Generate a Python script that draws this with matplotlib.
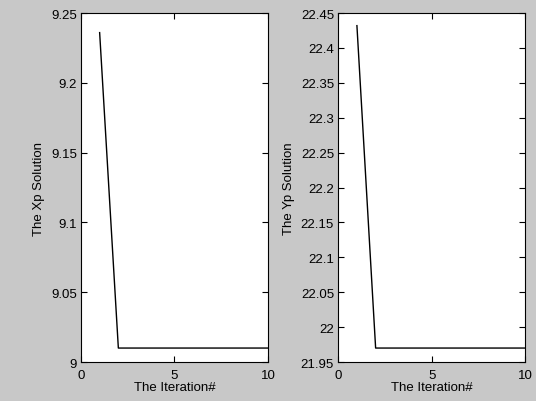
import matplotlib
matplotlib.use("Agg")
import matplotlib.pyplot as plt

iterations = [1, 2, 3, 4, 5, 6, 7, 8, 9, 10]
xp_values = [9.236, 9.01, 9.01, 9.01, 9.01, 9.01, 9.01, 9.01, 9.01, 9.01]
yp_values = [22.432, 21.97, 21.97, 21.97, 21.97, 21.97, 21.97, 21.97, 21.97, 21.97]
xp_ticks = [9, 9.05, 9.1, 9.15, 9.2, 9.25]
xp_ticklabels = ["9", "9.05", "9.1", "9.15", "9.2", "9.25"]
yp_ticks = [21.95, 22, 22.05, 22.1, 22.15, 22.2, 22.25, 22.3, 22.35, 22.4, 22.45]
yp_ticklabels = ["21.95", "22", "22.05", "22.1", "22.15", "22.2", "22.25", "22.3", "22.35", "22.4", "22.45"]
x_ticks = [0, 5, 10]

plt.rcParams['font.family'] = ['Liberation Sans', 'DejaVu Sans']
fig = plt.figure(figsize=(5.36, 4.02), dpi=100, facecolor='#c8c8c8')

FS = 9.5

def setup(ax, ys, yticks, yticklabels, ylim, ylabel):
    ax.plot(iterations, ys, color='black', linewidth=1.0)
    ax.set_xlim(0, 10)
    ax.set_ylim(*ylim)
    ax.set_xticks(x_ticks)
    ax.set_xticklabels([str(t) for t in x_ticks])
    ax.set_yticks(yticks)
    ax.set_yticklabels(yticklabels)
    ax.tick_params(direction='in', length=4, width=0.8, top=True, right=True,
                   labelsize=FS, colors='black')
    ax.tick_params(axis='x', pad=5)
    ax.tick_params(axis='y', pad=3)
    for s in ax.spines.values():
        s.set_linewidth(0.8)
    ax.set_xlabel("The Iteration#", fontsize=FS, labelpad=0)
    ax.set_ylabel(ylabel, fontsize=FS, labelpad=4)

ax1 = fig.add_axes([0.151, 0.097, 0.349, 0.868])
setup(ax1, xp_values, xp_ticks, xp_ticklabels, (9, 9.25), "The Xp Solution")
ax2 = fig.add_axes([0.631, 0.097, 0.349, 0.868])
setup(ax2, yp_values, yp_ticks, yp_ticklabels, (21.95, 22.45), "The Yp Solution")

fig.savefig("out.png", dpi=100, facecolor=fig.get_facecolor())
